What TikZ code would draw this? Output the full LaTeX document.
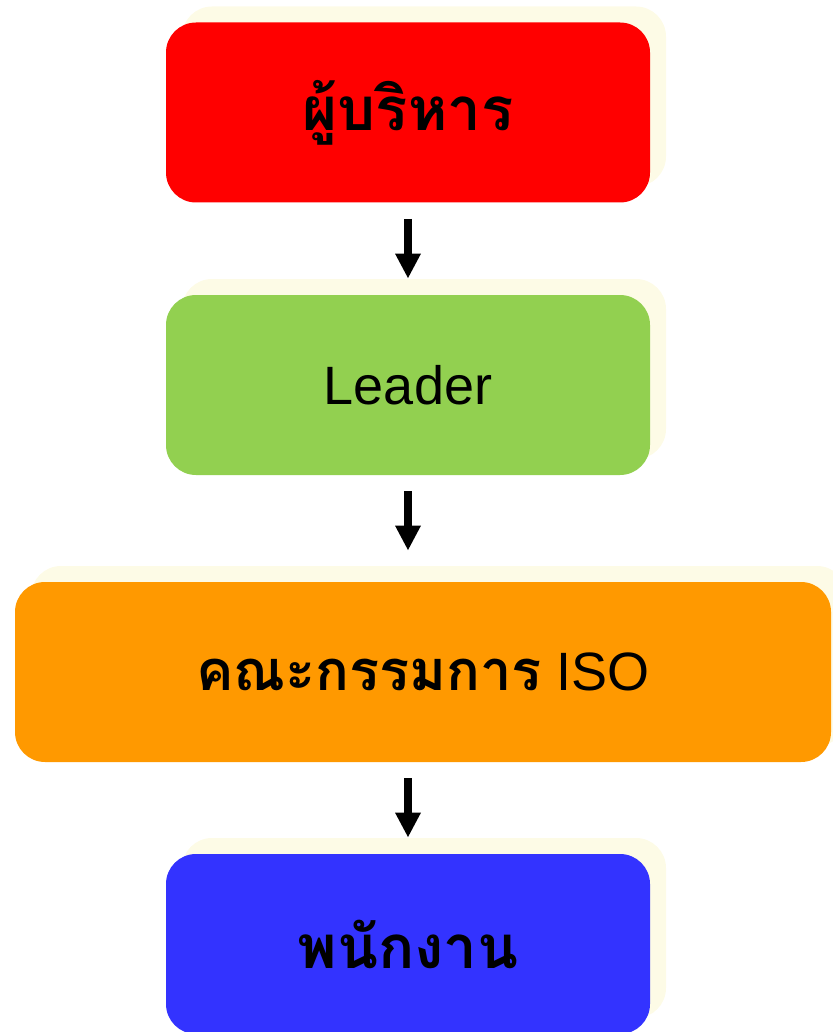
\documentclass[tikz,border=0pt]{standalone}
\usepackage{fontspec}
\setmainfont{Liberation Sans}
\newfontfamily\thaifont[Script=Thai]{Loma}
\usepackage{tikz}
\usetikzlibrary{shapes,arrows.meta,shadows}

\definecolor{bossred}{HTML}{FF0000}
\definecolor{leadergreen}{HTML}{92D050}
\definecolor{isoorange}{HTML}{FF9900}
\definecolor{staffblue}{HTML}{3333FF}
\definecolor{shadowcream}{HTML}{FDFBE6}

\begin{document}
\begin{tikzpicture}[x=0.5pt, y=-0.5pt]
    % Define block styles
    \tikzstyle{level} = [rectangle, rounded corners=15pt, minimum width=242pt, minimum height=90pt, text centered, inner sep=0pt, draw=none, copy shadow={shadow xshift=8pt, shadow yshift=8pt, fill=shadowcream, draw=none}]
    \tikzstyle{thaitext} = [font=\thaifont\bfseries\fontsize{30}{36}\selectfont]
    \tikzstyle{latintext} = [font=\fontsize{27}{32}\selectfont]
    \tikzstyle{arrow} = [line width=4pt, -{Triangle[width=12pt, length=12.5pt]}, shorten <=8pt]

    \useasboundingbox (0,0) rectangle (832,1032);

    % Draw nodes
    \node (boss) [level, thaitext, fill=bossred] at (408,112.5) {ผู้บริหาร};
    \node (leader) [level, latintext, fill=leadergreen] at (408,385) {Leader};
    \node (committee) [level, latintext, minimum width=408pt, fill=isoorange] at (423,672) {{\thaifont\bfseries\fontsize{28}{34}\selectfont คณะกรรมการ} ISO};
    \node (staff) [level, thaitext, fill=staffblue] at (408,944) {พนักงาน};

    % Draw edges
    \draw [arrow, shorten >=8pt] (boss.south) -- (leader.north);
    \draw [arrow, shorten >=15.5pt] (leader.south) -- (leader.south |- committee.north);
    \draw [arrow, shorten >=8pt] (boss.south |- committee.south) -- (staff.north);

\end{tikzpicture}
\end{document}
